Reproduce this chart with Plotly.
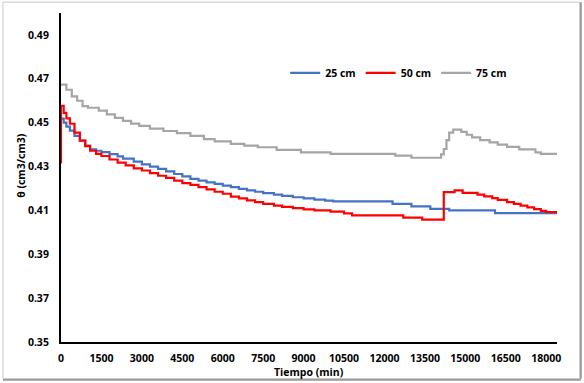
import plotly.graph_objects as go

# ---- data ----
t_25 = [0, 100, 200, 330, 500, 700, 900, 1080, 1300, 1500, 1800, 2100, 2300, 2700, 3000, 3300,
        3600, 3900, 4200, 4500, 4800, 5100, 5400, 5700, 6000, 6300, 6600, 6900, 7200, 7500,
        7900, 8200, 8600, 9000, 9400, 9800, 10100, 12300, 13000, 13700, 14400, 16100, 18400]
v_25 = [0.4518, 0.4500, 0.4482, 0.4464, 0.4440, 0.4418, 0.4395, 0.4378, 0.4372, 0.4366, 0.4357,
        0.4346, 0.4336, 0.4322, 0.4310, 0.4300, 0.4289, 0.4278, 0.4266, 0.4255, 0.4244, 0.4236,
        0.4228, 0.4221, 0.4213, 0.4206, 0.4198, 0.4191, 0.4185, 0.4179, 0.4172, 0.4166, 0.4160,
        0.4155, 0.4149, 0.4145, 0.4141, 0.4130, 0.4118, 0.4107, 0.4100, 0.4088, 0.4088]

t_50 = [0, 0, 100, 200, 330, 500, 700, 900, 1080, 1300, 1500, 1800, 2100, 2400, 2700, 3000,
        3300, 3600, 3900, 4200, 4500, 4800, 5100, 5400, 5700, 6000, 6300, 6600, 6900, 7200,
        7500, 7900, 8200, 8600, 9000, 9400, 10000, 10500, 10800, 12700, 13400, 14200, 14600,
        14900, 15450, 15700, 16000, 16200, 16550, 16800, 17050, 17300, 17550, 17800, 18000, 18400]
v_50 = [0.4314, 0.4577, 0.4545, 0.4520, 0.4495, 0.4455, 0.4418, 0.4393, 0.4372, 0.4358, 0.4348,
        0.4332, 0.4318, 0.4305, 0.4292, 0.4282, 0.4270, 0.4258, 0.4248, 0.4236, 0.4224, 0.4216,
        0.4206, 0.4196, 0.4185, 0.4176, 0.4163, 0.4155, 0.4146, 0.4138, 0.4130, 0.4122, 0.4116,
        0.4110, 0.4105, 0.4100, 0.4094, 0.4086, 0.4077, 0.4067, 0.4058, 0.4183, 0.4191, 0.4180,
        0.4172, 0.4164, 0.4156, 0.4148, 0.4138, 0.4130, 0.4122, 0.4114, 0.4106, 0.4098, 0.4092,
        0.4092]

t_75 = [0, 200, 400, 600, 800, 1000, 1400, 1700, 2000, 2300, 2600, 2900, 3300, 3800, 4300, 4800,
        5300, 5700, 6300, 6800, 7300, 8000, 8900, 10000, 12400, 13000, 14100, 14200, 14300, 14400,
        14550, 14850, 15050, 15250, 15550, 15900, 16200, 16550, 17000, 17600, 17800, 18400]
v_75 = [0.4673, 0.4650, 0.4620, 0.4600, 0.4575, 0.4568, 0.4555, 0.4538, 0.4522, 0.4508, 0.4496,
        0.4485, 0.4473, 0.4462, 0.4452, 0.4440, 0.4425, 0.4415, 0.4403, 0.4395, 0.4388, 0.4376,
        0.4365, 0.4358, 0.4350, 0.4340, 0.4355, 0.4380, 0.4420, 0.4455, 0.4468, 0.4458, 0.4445,
        0.4433, 0.4420, 0.4410, 0.4400, 0.4390, 0.4378, 0.4365, 0.4358, 0.4358]

series_names = ["25 cm", "50 cm", "75 cm"]
series_colors = ["#4472C4", "#FF0000", "#A5A5A5"]

x_ticks = list(range(0, 18001, 1500))
y_ticks = [0.35, 0.37, 0.39, 0.41, 0.43, 0.45, 0.47, 0.49]

FONT = "Open Sans"

fig = go.Figure()
for name, col, tx, vy in zip(series_names, series_colors, [t_25, t_50, t_75], [v_25, v_50, v_75]):
    fig.add_trace(go.Scatter(x=tx, y=vy, name=name, mode="lines",
                             line=dict(color=col, width=2.2, shape="hv")))

fig.update_layout(
    width=584, height=383,
    margin=dict(l=61, r=27, t=13, b=41),
    paper_bgcolor="white", plot_bgcolor="white",
    font=dict(family=FONT, size=10.5, color="black", weight="bold"),
    showlegend=True,
    legend=dict(orientation="h", x=0.452, y=0.818, xanchor="left", yanchor="middle",
                font=dict(family=FONT, size=10.5, color="black", weight="bold"),
                itemwidth=30, bgcolor="rgba(0,0,0,0)", tracegroupgap=0),
    xaxis=dict(range=[0, 18400], tickvals=x_ticks, ticktext=[str(v) for v in x_ticks],
               showline=True, linecolor="black", linewidth=2, showgrid=False, zeroline=False,
               ticks="", ticklabelstandoff=5,
               tickfont=dict(family=FONT, size=10.5, color="black", weight="bold")),
    yaxis=dict(range=[0.35, 0.50], tickvals=y_ticks, ticktext=[f"{v:.2f}" for v in y_ticks],
               showline=True, linecolor="black", linewidth=2, showgrid=False, zeroline=False,
               ticks="", ticklabelstandoff=8,
               tickfont=dict(family=FONT, size=10.5, color="black", weight="bold")),
    annotations=[
        dict(text="Tiempo (min)", xref="paper", yref="paper", x=0.5, y=-0.09,
             xanchor="center", yanchor="middle", showarrow=False,
             font=dict(family=FONT, size=10.5, color="black", weight="bold")),
        dict(text="θ (cm3/cm3)", xref="paper", yref="paper", x=-0.081, y=0.538,
             xanchor="center", yanchor="middle", showarrow=False, textangle=-90,
             font=dict(family=FONT, size=10.5, color="black", weight="bold")),
    ],
    shapes=[
        dict(type="rect", xref="paper", yref="paper", x0=-0.117, x1=1.046, y0=-0.112, y1=1.033,
             line=dict(color="#C8C8C8", width=1), fillcolor="rgba(0,0,0,0)", layer="above"),
        dict(type="line", xref="paper", yref="paper", x0=1.048, x1=1.048, y0=-0.112, y1=1.033,
             line=dict(color="#9A9A9A", width=2), layer="above"),
        dict(type="line", xref="paper", yref="paper", x0=-0.117, x1=1.048, y0=-0.115, y1=-0.115,
             line=dict(color="#9A9A9A", width=2), layer="above"),
    ],
)

fig.write_html("out.html", config={"displayModeBar": False},
               post_script="document.body.style.margin='0';")
